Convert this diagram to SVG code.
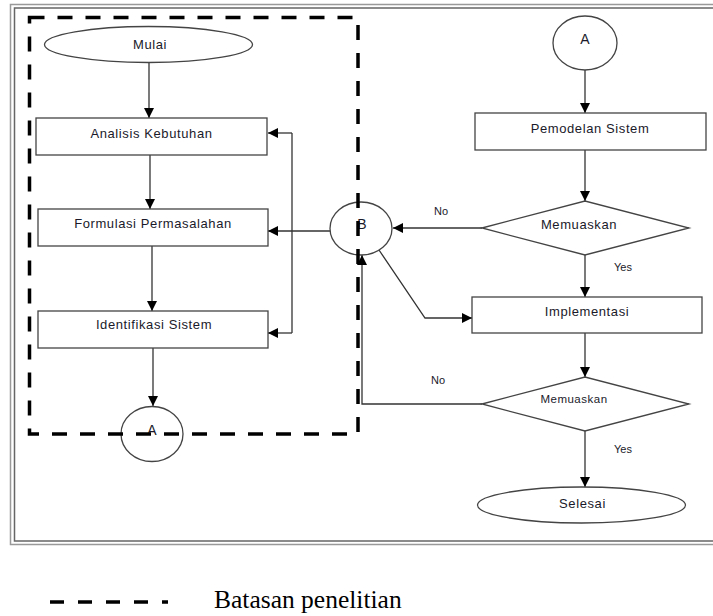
<svg xmlns="http://www.w3.org/2000/svg" width="713" height="616" viewBox="0 0 713 616">
<defs>
<marker id="ah" markerWidth="10" markerHeight="10" refX="10" refY="5" orient="auto" markerUnits="userSpaceOnUse">
<path d="M0,0 L10,5 L0,10 Z" fill="#000"/>
</marker>
<style>
.box{fill:#fff;stroke:#444;stroke-width:1.3}
.t{font-family:"Liberation Sans",Arial,sans-serif;font-size:13px;letter-spacing:0.6px;fill:#1a1a2a;text-anchor:middle}
.big{font-size:14px;letter-spacing:0}
.lbl{font-family:"Liberation Sans",Arial,sans-serif;font-size:11px;fill:#1a1a2a}
.c{fill:none;stroke:#333;stroke-width:1.3}
.ca{fill:none;stroke:#333;stroke-width:1.3;marker-end:url(#ah)}
.dash{fill:none;stroke:#000;stroke-width:3.5;stroke-dasharray:15 13}
</style>
</defs>
<rect width="713" height="616" fill="#fff"/>
<g id="frame">
<path d="M720,4.5 H10.5 V544.5 H720" fill="none" stroke="#999" stroke-width="1.5"/>
<path d="M720,8 H14.5 V541 H720" fill="none" stroke="#666" stroke-width="1.5"/>
</g>
<g id="connectors">
<line class="ca" x1="149" y1="63" x2="149" y2="118"/>
<line class="ca" x1="150" y1="155" x2="150" y2="209"/>
<line class="ca" x1="152" y1="246" x2="152" y2="311"/>
<line class="ca" x1="153" y1="348" x2="153" y2="406"/>
<path class="c" d="M292,133 V333"/>
<line class="ca" x1="292" y1="133" x2="268" y2="133"/>
<line class="ca" x1="292" y1="333" x2="268" y2="333"/>
<line class="ca" x1="330" y1="231" x2="268" y2="231"/>
<line class="ca" x1="585" y1="70" x2="585" y2="113"/>
<line class="ca" x1="585" y1="150" x2="585" y2="201"/>
<line class="ca" x1="482" y1="228" x2="393" y2="228"/>
<line class="ca" x1="585" y1="255" x2="585" y2="297"/>
<path class="ca" d="M379,250 L425,318 H472"/>
<line class="ca" x1="585" y1="333" x2="585" y2="377"/>
<path class="ca" d="M482,404 H362 V255"/>
<line class="ca" x1="585" y1="431" x2="585" y2="487"/>
</g>
<g id="mulai"><ellipse class="box" cx="148.5" cy="44.5" rx="104" ry="18"/><text class="t" x="150" y="48.5">Mulai</text></g>
<g id="analisis"><rect class="box" x="36" y="118" width="231" height="37"/><text class="t" x="151.5" y="137.5">Analisis Kebutuhan</text></g>
<g id="formulasi"><rect class="box" x="38" y="209" width="230" height="37"/><text class="t" x="153" y="227.5">Formulasi Permasalahan</text></g>
<g id="identifikasi"><rect class="box" x="38" y="311" width="230" height="37"/><text class="t" x="154" y="328.5">Identifikasi Sistem</text></g>
<g id="a-left"><ellipse class="box" cx="152" cy="434" rx="31" ry="27.5"/><text class="t big" x="152" y="435">A</text></g>
<g id="b"><ellipse class="box" cx="361" cy="228.5" rx="31" ry="26.5"/><text class="t big" x="362" y="229">B</text></g>
<g id="a-right"><ellipse class="box" cx="585" cy="43" rx="32" ry="27"/><text class="t big" x="585" y="44">A</text></g>
<g id="pemodelan"><rect class="box" x="475" y="113" width="231" height="37"/><text class="t" x="590" y="132.5">Pemodelan Sistem</text></g>
<g id="memuaskan1"><polygon class="box" points="482,228 585,201 689,228 585,255"/><text class="t" x="579" y="228.5">Memuaskan</text></g>
<g id="implementasi"><rect class="box" x="472" y="297" width="230" height="36"/><text class="t" x="587" y="315.5">Implementasi</text></g>
<g id="memuaskan2"><polygon class="box" points="482,404 585,377 689,404 585,431"/><text class="t" x="574" y="403" style="font-size:11.5px;letter-spacing:0.5px">Memuaskan</text></g>
<g id="selesai"><ellipse class="box" cx="581.5" cy="505" rx="104" ry="18"/><text class="t" x="582.5" y="507.5">Selesai</text></g>
<g id="labels">
<text class="lbl" x="434" y="215">No</text>
<text class="lbl" x="614" y="271">Yes</text>
<text class="lbl" x="431" y="384">No</text>
<text class="lbl" x="614" y="453">Yes</text>
</g>
<g id="boundary">
<rect class="dash" x="29.5" y="17.5" width="328.5" height="416.5"/>
</g>
<g id="legend">
<line x1="50" y1="602" x2="168" y2="602" stroke="#000" stroke-width="3.5" stroke-dasharray="14 14"/>
<text x="214" y="608" style="font-family:'Liberation Serif','Times New Roman',serif;font-size:25.5px;fill:#000">Batasan penelitian</text>
</g>
</svg>
